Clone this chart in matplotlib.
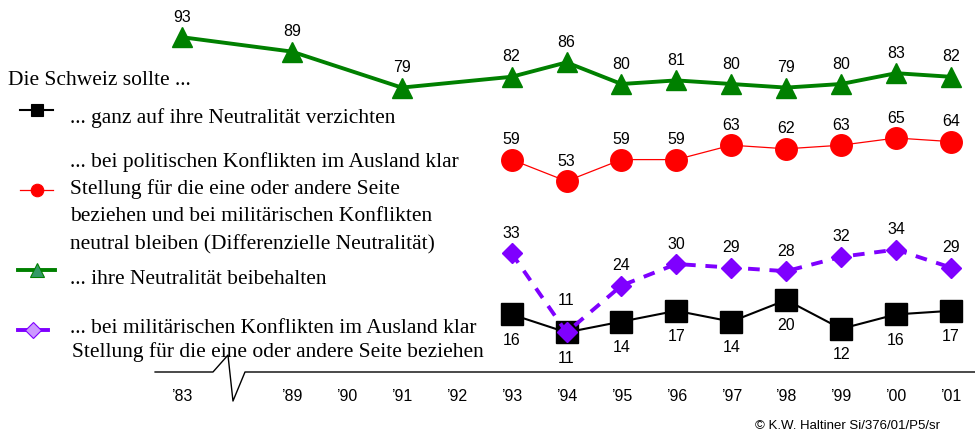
import matplotlib
matplotlib.use('Agg')
import matplotlib.pyplot as plt
from matplotlib.lines import Line2D

# x categories (the gap after '83 is the axis break)
years = ['’83', '’89', '’90', '’91', '’92', '’93', '’94', '’95', '’96', '’97', '’98', '’99', '’00', '’01']
year_pos = [0, 2, 3, 4, 5, 6, 7, 8, 9, 10, 11, 12, 13, 14]

green_years = ['’83', '’89', '’91', '’93', '’94', '’95', '’96', '’97', '’98', '’99', '’00', '’01']
beibehalten = [93, 89, 79, 82, 86, 80, 81, 80, 79, 80, 83, 82]

late_years = ['’93', '’94', '’95', '’96', '’97', '’98', '’99', '’00', '’01']
differenziell = [59, 53, 59, 59, 63, 62, 63, 65, 64]
militaerisch = [33, 11, 24, 30, 29, 28, 32, 34, 29]
verzichten = [16, 11, 14, 17, 14, 20, 12, 16, 17]

GREEN = '#008000'
RED = '#ff0000'
PURPLE = '#7f00ff'
SANS = 'Liberation Sans'
SERIF = 'Liberation Serif'

pos = dict(zip(years, year_pos))

fig = plt.figure(figsize=(9.75, 4.39), dpi=100)
ax = fig.add_axes([0, 0, 1, 1])
ax.axis('off')
step = 54.93   # px per category
unit = 3.6     # px per percent
ax.set_xlim(-182 / step, (975 - 182) / step)
ax.set_ylim(-(439 - 373) / unit, 373 / unit)


def label(x, y, txt, dy):
    ax.annotate(str(txt), (x, y), xytext=(0, dy), textcoords='offset points',
                ha='center', va='center', fontsize=11.5, family=SANS, color='black')


gx = [pos[y] for y in green_years]
ax.plot(gx, beibehalten, color=GREEN, lw=2.8, marker='^', ms=14.5, mfc=GREEN, mec=GREEN, zorder=3)
for x, v in zip(gx, beibehalten):
    label(x, v, v, 15)

lx = [pos[y] for y in late_years]
ax.plot(lx, differenziell, color=RED, lw=0.9, marker='o', ms=15.5, mfc=RED, mec=RED, zorder=3)
for x, v in zip(lx, differenziell):
    label(x, v, v, 15)

ax.plot(lx, verzichten, color='black', lw=1.5, marker='s', ms=16.5, mfc='black', mec='black', zorder=3)
for x, v in zip(lx, verzichten):
    label(x, v, v, -18)

ax.plot(lx, militaerisch, color=PURPLE, lw=2.8, ls=(0, (3, 2.5)), marker='D', ms=10.5,
        mfc=PURPLE, mec=PURPLE, zorder=4)
for x, v, yr in zip(lx, militaerisch, late_years):
    label(x, v, v, 24 if yr == '’94' else 15)

# x axis with break
bx = [-0.49, 0.564, 0.837, 0.928, 1.147, 15]
by = [0, 0, 4.7, -8.06, 0, 0]
ax.plot(bx, by, color='black', lw=1.0, zorder=2)
for p, t in zip(year_pos, years):
    ax.text(p, -24 / unit, t, ha='center', va='center', fontsize=11.5, family=SANS)

fig.text(940 / 975, 1 - 426 / 439, '© K.W. Haltiner Si/376/01/P5/sr', ha='right', va='center',
         fontsize=9.5, family=SANS)

# legend (hand placed, figure pixels)
def fx(p):
    return p / 975


def fy(p):
    return 1 - p / 439


fig.text(fx(8), fy(85), 'Die Schweiz sollte ...', family=SERIF, fontsize=15.5, va='baseline')

handles = [
    (20, 53, 37, 111, 'black', 'black', 's', 9, 1.5, '-'),
    (20, 53, 37, 191, RED, RED, 'o', 9, 0.9, '-'),
    (18, 55, 37, 271, GREEN, '#339966', '^', 10, 2.8, '-'),
    (18, 48, 33, 331, PURPLE, '#cc99ff', 'D', 8, 2.8, '-'),
]
for x0, x1, xm, yy, lc, fc, mk, ms, lw, ls in handles:
    fig.add_artist(Line2D([fx(x0), fx(x1)], [fy(yy), fy(yy)], color=lc, lw=lw, ls=ls,
                          transform=fig.transFigure))
    fig.add_artist(Line2D([fx(xm)], [fy(yy)], marker=mk, ms=ms, mfc=fc, mec=lc, mew=0.8,
                          ls='none', transform=fig.transFigure))

legend_lines = [
    (70, 123, '... ganz auf ihre Neutralität verzichten'),
    (70, 167, '... bei politischen Konflikten im Ausland klar'),
    (70, 194, 'Stellung für die eine oder andere Seite'),
    (70, 221.5, 'beziehen und bei militärischen Konflikten'),
    (70, 249, 'neutral bleiben (Differenzielle Neutralität)'),
    (70, 284, '... ihre Neutralität beibehalten'),
    (70, 333, '... bei militärischen Konflikten im Ausland klar'),
    (72, 357, 'Stellung für die eine oder andere Seite beziehen'),
]
for x, y, t in legend_lines:
    fig.text(fx(x), fy(y), t, family=SERIF, fontsize=15.5, va='baseline')

fig.savefig('out.png', dpi=100)
